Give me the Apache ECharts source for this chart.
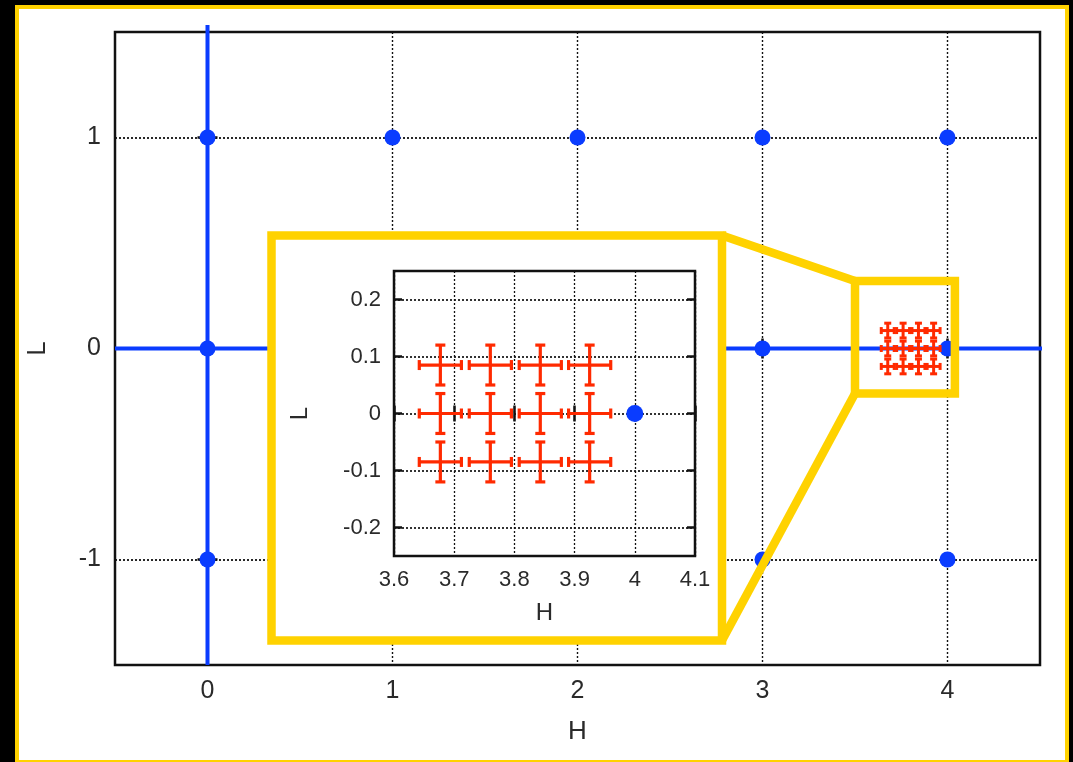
<!DOCTYPE html>
<html>
<head>
<meta charset="utf-8">
<script src="https://cdn.jsdelivr.net/npm/echarts@6/dist/echarts.min.js"></script>
<style>
  html, body { margin: 0; padding: 0; background: #000; }
  #frame {
    position: absolute; left: 15px; top: 5px; width: 1054px; height: 759px;
    box-sizing: border-box; border: 4.5px solid #ffd200; background: #fff;
  }
  #chart { position: absolute; left: 0; top: 0; width: 1073px; height: 762px; }
</style>
</head>
<body>
<div id="frame"></div>
<div id="chart"></div>
<script>
// Lattice of reference points (H, L)
const latticeH = [0, 1, 2, 3, 4, 0, 1, 2, 3, 4, 0, 1, 2, 3, 4];
const latticeL = [1, 1, 1, 1, 1, 0, 0, 0, 0, 0, -1, -1, -1, -1, -1];

// Fitted points with their uncertainties
const fitH = [3.677, 3.760, 3.843, 3.925, 3.677, 3.760, 3.843, 3.925, 3.677, 3.760, 3.843, 3.925];
const fitL = [0.085, 0.085, 0.085, 0.085, 0, 0, 0, 0, -0.085, -0.085, -0.085, -0.085];
const errH = [0.035, 0.035, 0.035, 0.035, 0.035, 0.035, 0.035, 0.035, 0.035, 0.035, 0.035, 0.035];
const errL = [0.035, 0.035, 0.035, 0.035, 0.035, 0.035, 0.035, 0.035, 0.035, 0.035, 0.035, 0.035];

// Zero lines (H = 0 and L = 0)
const zeroLineV = [[0, -1.5], [0, 1.533]];
const zeroLineH = [[-0.5, 0], [4.54, 0]];

// Axis ranges and ticks
const mainHRange = [-0.5, 4.5];
const mainLRange = [-1.5, 1.5];
const mainHTicks = [0, 1, 2, 3, 4];
const mainLTicks = [-1, 0, 1];
const insetHRange = [3.6, 4.1];
const insetLRange = [-0.25, 0.25];
const insetHTicks = [3.6, 3.7, 3.8, 3.9, 4, 4.1];
const insetLTicks = [-0.2, -0.1, 0, 0.1, 0.2];

// Region of the main plot that the inset magnifies
const zoomH = [3.5, 4.04];
const zoomL = [-0.213, 0.32];

const BLUE = '#0a3cff';
const RED = '#ff2a00';
const YELLOW = '#ffd200';
const FONT = '"Liberation Sans", Arial, sans-serif';
const TXT = '#2a2a2a';

const chart = echarts.init(document.getElementById('chart'), null, { renderer: 'canvas' });

const latticeData = latticeH.map((h, i) => [h, latticeL[i]]);
const fitData = fitH.map((h, i) => [h, fitL[i], errH[i], errL[i]]);

function crossRenderer(lw, cap) {
  return function (params, api) {
    const h = api.value(0), l = api.value(1), eh = api.value(2), el = api.value(3);
    const a = api.coord([h - eh, l]), b = api.coord([h + eh, l]);
    const t = api.coord([h, l + el]), d = api.coord([h, l - el]);
    const style = { stroke: RED, lineWidth: lw, fill: null };
    const seg = (x1, y1, x2, y2) => ({ type: 'line', shape: { x1, y1, x2, y2 }, style });
    return {
      type: 'group',
      children: [
        seg(a[0], a[1], b[0], b[1]),
        seg(t[0], t[1], d[0], d[1]),
        seg(a[0], a[1] - cap, a[0], a[1] + cap),
        seg(b[0], b[1] - cap, b[0], b[1] + cap),
        seg(t[0] - cap, t[1], t[0] + cap, t[1]),
        seg(d[0] - cap, d[1], d[0] + cap, d[1])
      ]
    };
  };
}

function axisPair(kind, gridIndex, range, ticks, opts) {
  const zl = opts.zlevel;
  const dotted = { color: '#111', width: kind === 'y' ? opts.gridW + 0.4 : opts.gridW, type: [2, 2] };
  const main = {
    type: 'value', gridIndex, min: range[0], max: range[1], zlevel: zl,
    axisLine: { show: false },
    axisTick: { show: true, inside: true, length: opts.tickLen, customValues: ticks,
      lineStyle: { color: '#111', width: 2.5 } },
    axisLabel: { show: true, customValues: ticks, margin: opts.labelMargin,
      fontSize: opts.fontSize, fontFamily: FONT, color: TXT },
    splitLine: { show: true, lineStyle: dotted },
    name: kind === 'x' ? 'H' : 'L',
    nameLocation: 'middle', nameGap: opts.nameGap,
    nameTextStyle: { fontSize: opts.nameSize, fontFamily: FONT, color: TXT },
    position: kind === 'x' ? 'bottom' : 'left'
  };
  if (kind === 'y') main.nameRotate = 90;
  const mirror = {
    type: 'value', gridIndex, min: range[0], max: range[1], zlevel: zl,
    position: kind === 'x' ? 'top' : 'right',
    axisLine: { show: false },
    axisTick: { show: true, inside: true, length: opts.tickLen, customValues: ticks,
      lineStyle: { color: '#111', width: 2.5 } },
    axisLabel: { show: false },
    splitLine: { show: false }
  };
  return [main, mirror];
}

const mainOpts = { zlevel: 0, tickLen: 10, labelMargin: 14, fontSize: 25, nameSize: 26, gridW: 1.4 };
const insetOpts = { zlevel: 2, tickLen: 8, labelMargin: 13, fontSize: 22, nameSize: 24, gridW: 1.3 };

const xAxes = [
  ...axisPair('x', 0, mainHRange, mainHTicks, Object.assign({ nameGap: 54 }, mainOpts)),
  ...axisPair('x', 1, insetHRange, insetHTicks, Object.assign({ nameGap: 45 }, insetOpts))
];
const yAxes = [
  ...axisPair('y', 0, mainLRange, mainLTicks, Object.assign({ nameGap: 64 }, mainOpts)),
  ...axisPair('y', 1, insetLRange, insetLTicks, Object.assign({ nameGap: 82 }, insetOpts))
];

const option = {
  animation: false,
  grid: [
    { left: 115, top: 32, width: 925, height: 633, show: true, zlevel: 0,
      borderColor: '#111', borderWidth: 2.5, backgroundColor: 'transparent' },
    { left: 394, top: 271, width: 301, height: 285, show: true, zlevel: 2,
      borderColor: '#111', borderWidth: 2.5, backgroundColor: 'transparent' }
  ],
  xAxis: xAxes,
  yAxis: yAxes,
  series: [
    { type: 'line', xAxisIndex: 0, yAxisIndex: 0, data: zeroLineV, symbol: 'none',
      clip: false, lineStyle: { color: BLUE, width: 4 }, zlevel: 0, z: 3 },
    { type: 'line', xAxisIndex: 0, yAxisIndex: 0, data: zeroLineH, symbol: 'none',
      clip: false, lineStyle: { color: BLUE, width: 4 }, zlevel: 0, z: 3 },
    { type: 'scatter', xAxisIndex: 0, yAxisIndex: 0, data: latticeData, symbolSize: 16,
      itemStyle: { color: BLUE, opacity: 1 }, zlevel: 0, z: 4 },
    { type: 'custom', xAxisIndex: 0, yAxisIndex: 0, data: fitData,
      renderItem: crossRenderer(3, 3.5), zlevel: 0, z: 5 },
    { type: 'scatter', xAxisIndex: 2, yAxisIndex: 2, data: latticeData, symbolSize: 17,
      itemStyle: { color: BLUE, opacity: 1 }, zlevel: 2, z: 4 },
    { type: 'custom', xAxisIndex: 2, yAxisIndex: 2, data: fitData,
      renderItem: crossRenderer(3.2, 5), zlevel: 2, z: 5 }
  ]
};

chart.setOption(option);

// Magnifier annotation: inset panel, zoom window and connecting lines
const panel = { left: 271.5, top: 235.5, right: 722, bottom: 640.5 };
const zTL = chart.convertToPixel({ gridIndex: 0 }, [zoomH[0], zoomL[1]]);
const zBR = chart.convertToPixel({ gridIndex: 0 }, [zoomH[1], zoomL[0]]);
const ystroke = { stroke: YELLOW, lineWidth: 8.5, lineJoin: 'miter' };

chart.setOption({
  graphic: { elements: [
    { type: 'rect', zlevel: 1, z: 1,
      shape: { x: panel.left, y: panel.top, width: panel.right - panel.left, height: panel.bottom - panel.top },
      style: Object.assign({ fill: '#fff' }, ystroke) },
    { type: 'rect', zlevel: 1, z: 1,
      shape: { x: zTL[0], y: zTL[1], width: zBR[0] - zTL[0], height: zBR[1] - zTL[1] },
      style: Object.assign({ fill: null }, ystroke) },
    { type: 'line', zlevel: 1, z: 2,
      shape: { x1: panel.right, y1: panel.top, x2: zTL[0], y2: zTL[1] },
      style: Object.assign({}, ystroke) },
    { type: 'line', zlevel: 1, z: 2,
      shape: { x1: panel.right, y1: panel.bottom, x2: zTL[0], y2: zBR[1] },
      style: Object.assign({}, ystroke) }
  ] }
});
</script>
</body>
</html>
